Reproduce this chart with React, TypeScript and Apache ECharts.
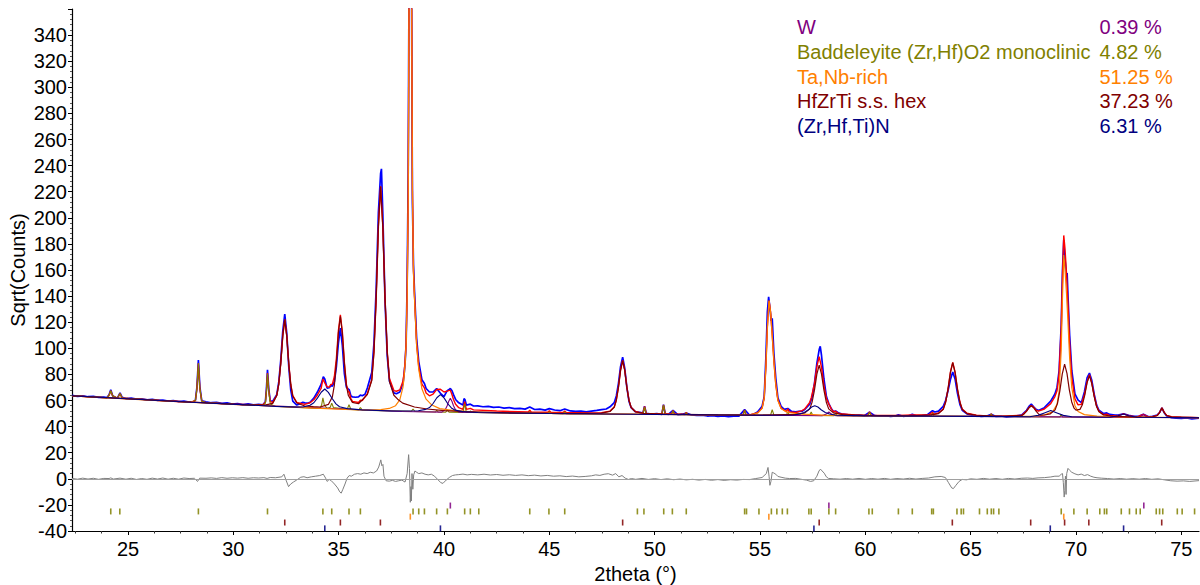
import React, { useEffect, useRef } from "react";
import * as echarts from "echarts";

type Pt = [number, number];

const X_MIN = 22.34;
const X_MAX = 75.84;
const Y_MIN = -40;
const Y_MAX = 360;
const X_TICKS = [25, 30, 35, 40, 45, 50, 55, 60, 65, 70, 75];
const X_MINOR_TICKS = [22.5, 23.75, 26.25, 27.5, 28.75, 31.25, 32.5, 33.75, 36.25, 37.5, 38.75, 41.25, 42.5, 43.75, 46.25, 47.5, 48.75, 51.25, 52.5, 53.75, 56.25, 57.5, 58.75, 61.25, 62.5, 63.75, 66.25, 67.5, 68.75, 71.25, 72.5, 73.75];

const PHASE_NAMES = ["W", "Baddeleyite (Zr,Hf)O2 monoclinic", "Ta,Nb-rich", "HfZrTi s.s. hex", "(Zr,Hf,Ti)N"];
const PHASE_PERCENT = ["0.39 %", "4.82 %", "51.25 %", "37.23 %", "6.31 %"];
const PHASE_COLORS = ["#800080", "#808000", "#ff8000", "#800000", "#000080"];

const OBSERVED: Pt[] = [
  [22.34,63.9],[22.6,63.2],[22.85,63.6],[23.1,62.9],[23.35,63.1],[23.6,62.4],[23.85,62.6],[24.0,62.3],[24.1,64.4],[24.18,68.2],[24.27,63.7],[24.4,62.3],[24.5,62.0],[24.62,65.8],[24.72,62.4],[24.9,61.5],[25.15,61.8],[25.4,61.0],[25.65,61.3],[25.9,60.5],[26.15,60.9],[26.4,60.1],[26.65,60.4],[26.9,59.6],[27.15,60.0],[27.4,59.2],[27.65,59.5],[27.9,58.7],[28.1,59.0],[28.2,60.3],[28.27,70],[28.34,91],[28.41,70.5],[28.5,59.8],[28.7,58.9],[28.95,58.3],[29.2,58.6],[29.45,57.8],[29.7,58.2],[29.95,57.3],[30.2,57.6],[30.45,56.9],[30.7,57.4],[30.95,56.6],[31.2,57.0],[31.4,56.7],[31.52,59],[31.57,69],[31.62,83.5],[31.68,69],[31.75,59.8],[31.87,59.4],[32.06,64.5],[32.155,74],[32.25,91],[32.345,113],[32.44,126.2],[32.535,111.5],[32.63,86],[32.725,68],[32.82,59.5],[33.01,56.5],[33.2,57.8],[33.3,58.6],[33.39,58.2],[33.55,58.0],[33.64,58.6],[33.82,61.8],[33.99,66.5],[34.17,72.5],[34.27,78.2],[34.34,76.5],[34.45,69.5],[34.55,69.8],[34.63,71.3],[34.7,71.0],[34.795,74.5],[34.89,86],[34.985,104],[35.08,115.5],[35.175,102],[35.27,80.5],[35.365,70.2],[35.46,68.7],[35.5,68.3],[35.58,63.5],[35.65,62.8],[35.8,62.5],[35.94,62.8],[36.03,64.2],[36.12,63.6],[36.25,64.8],[36.36,69.5],[36.57,81.5],[36.675,104],[36.78,146],[36.885,204],[36.99,234],[37.03,237.5],[37.095,203],[37.2,136],[37.305,94],[37.41,75],[37.62,65.8],[37.74,65.2],[37.9,66.5],[38.05,72.8],[38.1,79],[38.15,88],[38.2,103],[38.25,150],[38.3,235],[38.32,310],[38.34,385],[38.4,500],[38.46,370],[38.48,290],[38.5,212],[38.55,164],[38.6,143.5],[38.7,107.5],[38.8,89.8],[38.95,76],[39.07,73],[39.15,69.2],[39.31,66.5],[39.48,66.5],[39.65,69.2],[39.83,65.5],[40.0,63],[40.15,67.5],[40.22,68.2],[40.3,69.2],[40.38,67.5],[40.45,64.5],[40.55,60.8],[40.7,58.2],[40.9,56.5],[40.95,61.5],[41.0,60.5],[41.06,56.5],[41.25,57.2],[41.4,55.8],[41.6,55.9],[41.85,55.2],[42.1,55.5],[42.35,54.7],[42.6,55.0],[42.85,54.2],[43.1,54.6],[43.35,53.8],[43.6,54.0],[43.85,53.4],[44.07,55.0],[44.3,53.1],[44.55,53.4],[44.8,52.6],[45.0,53.8],[45.25,52.7],[45.5,52.2],[45.73,53.5],[46.0,52.0],[46.25,51.6],[46.5,51.9],[46.75,51.3],[47.0,51.9],[47.25,52.4],[47.48,53.0],[47.7,53.5],[47.88,55.2],[48.08,58.3],[48.18,63.5],[48.28,73],[48.38,86],[48.48,93.2],[48.58,84.5],[48.68,70],[48.78,59.5],[48.88,54.6],[49.08,51.4],[49.3,50.9],[49.44,50.3],[49.52,55.6],[49.6,50.2],[49.85,49.6],[50.1,49.9],[50.34,49.4],[50.42,56.9],[50.5,49.9],[50.65,49.4],[50.87,52.5],[51.1,49.1],[51.3,49.5],[51.5,50.4],[51.75,48.9],[52.0,48.5],[52.25,48.8],[52.5,48.1],[52.75,48.4],[53.0,47.8],[53.25,48.2],[53.5,47.7],[53.75,48.1],[54.0,48.0],[54.27,53.0],[54.5,48.9],[54.7,49.4],[54.9,51.5],[55.1,55.6],[55.2,63],[55.28,93],[55.35,128],[55.41,139.5],[55.47,131],[55.53,121],[55.58,123],[55.66,96],[55.75,77],[55.85,62],[56.0,55.5],[56.15,53.2],[56.32,53.9],[56.5,51.6],[56.69,51.3],[56.85,51.6],[57.0,51.8],[57.135,53.3],[57.36,57.2],[57.47,62.5],[57.585,73.2],[57.7,88.5],[57.81,99],[57.86,101.5],[57.92,94.5],[58.035,76.5],[58.15,63.2],[58.26,57.8],[58.39,53.6],[58.485,51.6],[58.59,51.9],[58.75,50.3],[58.94,49.5],[59.2,49.0],[59.45,48.6],[59.7,48.9],[59.95,48.3],[60.2,51.0],[60.45,48.4],[60.7,48.0],[60.95,48.3],[61.2,47.8],[61.45,48.2],[61.57,49.0],[61.8,47.9],[62.05,48.3],[62.23,49.4],[62.45,48.0],[62.7,48.4],[62.95,49.2],[63.19,52.2],[63.3,51.2],[63.475,51.8],[63.7,55.5],[63.81,60],[63.925,67.5],[64.04,76],[64.15,81.8],[64.26,76.5],[64.375,65.5],[64.49,57],[64.6,52.5],[64.825,49.7],[65.05,48.8],[65.27,48.3],[65.5,47.9],[65.8,48.2],[65.98,49.5],[66.2,47.8],[66.45,48.1],[66.7,47.5],[66.95,47.9],[67.2,48.2],[67.43,49.0],[67.655,52.5],[67.77,55.5],[67.88,57.2],[67.99,55.2],[68.105,53.2],[68.22,52.3],[68.5,54.5],[68.8,59.5],[69.0,65],[69.1,70],[69.2,83],[69.3,118],[69.36,160],[69.42,183],[69.45,170],[69.48,168],[69.55,156],[69.58,157.6],[69.62,140],[69.7,110],[69.8,83],[69.95,65],[70.1,60.3],[70.26,58.4],[70.4,66.5],[70.53,77.5],[70.64,81],[70.75,75.5],[70.87,64.5],[70.98,56.5],[71.09,52.5],[71.3,50],[71.46,50.5],[71.6,49.3],[71.85,48.8],[72.0,48.8],[72.26,49.8],[72.5,48.6],[72.75,47.8],[73.0,48.1],[73.2,49.5],[73.45,47.5],[73.63,47.8],[73.855,48.8],[73.97,50.8],[74.08,54.3],[74.19,50.6],[74.305,48.2],[74.53,46.8],[74.75,46.5],[75.0,46.2],[75.25,46.6],[75.5,45.9],[75.84,46.4]
];

const CALCULATED: Pt[] = [
  [22.34,63.6],[23.2,62.8],[24.0,62.0],[24.1,64.0],[24.18,67.5],[24.27,63.5],[24.5,61.9],[24.62,65.3],[24.72,61.9],[25.0,61.6],[26.5,60.0],[28.0,58.7],[28.2,60.0],[28.27,69],[28.34,88.5],[28.41,69],[28.5,59.5],[28.7,58.4],[30.0,57.1],[30.9,56.7],[31.4,56.8],[31.52,58.6],[31.57,67.4],[31.62,81],[31.68,67.8],[31.75,59.2],[31.87,58.6],[32.06,64.0],[32.155,72.6],[32.25,88.5],[32.345,109.5],[32.44,122.2],[32.535,109.4],[32.63,88.2],[32.725,72.3],[32.82,63.7],[33.01,58.6],[33.39,57.0],[33.64,58.3],[33.82,60.6],[33.99,64.2],[34.17,69.5],[34.25,76.5],[34.34,73.5],[34.45,70.5],[34.55,70.3],[34.63,72.3],[34.7,72.6],[34.795,78.4],[34.89,92.2],[34.985,113.3],[35.08,125.7],[35.175,112.2],[35.27,89.3],[35.365,72.4],[35.46,66.3],[35.49,67.0],[35.58,61.5],[35.65,59.3],[35.94,58.5],[36.03,60.2],[36.12,59.9],[36.36,65.3],[36.57,76],[36.675,97.5],[36.78,138.5],[36.885,193.2],[36.99,224.1],[37.095,193.1],[37.2,138.3],[37.305,97.4],[37.41,76.8],[37.62,67.6],[37.74,67.1],[37.9,68.1],[38.05,74.7],[38.1,80.5],[38.15,89.5],[38.2,104],[38.25,141.6],[38.3,216],[38.32,291],[38.34,371],[38.4,520],[38.46,381],[38.48,301],[38.5,223],[38.55,159.5],[38.6,139.3],[38.7,103.5],[38.8,86],[38.95,72.5],[39.07,69.6],[39.15,65.8],[39.31,63.6],[39.48,64.9],[39.65,68.4],[39.83,68.6],[40.0,66.5],[40.15,67.2],[40.22,67.6],[40.3,67.9],[40.38,64.4],[40.45,60.8],[40.55,57.1],[40.7,54.5],[40.9,53.2],[40.98,59.2],[41.06,53.2],[41.25,54.0],[41.4,52.8],[42.5,51.9],[44.0,51.2],[44.07,52.5],[44.14,51.2],[44.93,51.0],[45.0,52.2],[45.07,51.0],[45.66,50.8],[45.73,52.0],[45.8,50.8],[47.0,50.4],[47.48,50.7],[47.88,51.9],[48.08,55],[48.18,60.4],[48.28,70.3],[48.38,83.3],[48.48,90.7],[48.58,83.3],[48.68,70.2],[48.78,60.3],[48.88,54.9],[49.08,51.6],[49.3,50.6],[49.44,50.1],[49.52,55.4],[49.6,50.1],[50.0,49.8],[50.34,49.7],[50.42,56.7],[50.5,49.7],[50.8,49.6],[50.87,52.4],[50.94,49.6],[51.44,49.4],[51.5,50.8],[51.56,49.4],[53.0,49.1],[54.2,49.1],[54.27,52.7],[54.34,49.1],[54.5,49.0],[54.9,50.7],[55.1,54.2],[55.2,62.2],[55.28,86.1],[55.35,116.1],[55.43,136.6],[55.5,128.1],[55.58,110.3],[55.66,90.1],[55.75,72.2],[55.85,60.3],[56.0,54.2],[56.25,51.5],[56.32,53.6],[56.39,51.2],[56.69,50.8],[57.0,52.2],[57.135,53.7],[57.36,58.6],[57.43,62.0],[57.47,64.7],[57.585,73.0],[57.7,85.9],[57.81,93.6],[57.92,85.4],[58.035,71.4],[58.15,61.8],[58.26,57.6],[58.39,53.4],[58.485,51.5],[58.59,51.8],[58.7,50.3],[58.94,49.6],[59.5,48.9],[60.12,48.6],[60.2,51.3],[60.28,48.6],[61.57,48.5],[62.23,48.9],[63.03,49.2],[63.19,51.0],[63.26,49.6],[63.475,50.4],[63.7,53.4],[63.81,58.8],[63.925,68.6],[64.04,81.7],[64.15,89.1],[64.26,81.7],[64.375,68.6],[64.49,58.8],[64.6,53.4],[64.825,50.2],[65.27,48.8],[65.9,48.0],[65.98,49.7],[66.06,47.9],[66.5,47.9],[67.43,48.7],[67.655,52.0],[67.77,54.6],[67.88,56.1],[67.99,54.9],[68.105,52.6],[68.22,51.8],[68.5,53.5],[68.8,57.6],[69.0,63],[69.1,67.5],[69.2,81],[69.3,116.2],[69.36,155.7],[69.42,186.5],[69.48,176],[69.55,157.5],[69.62,133.9],[69.7,103.5],[69.8,78.2],[69.95,61.2],[70.1,56.6],[70.26,57.1],[70.4,64.4],[70.53,74.6],[70.64,79.8],[70.75,73.4],[70.87,63.3],[70.98,55.8],[71.09,51.8],[71.3,49.2],[71.46,49.6],[71.6,48.4],[72.0,48.4],[72.26,49.8],[72.5,48.4],[72.9,47.4],[73.2,49.3],[73.45,47.2],[73.63,47.6],[73.855,48.6],[73.97,50.9],[74.08,54.3],[74.19,50.9],[74.305,48.6],[74.53,47.6],[75.0,47.2],[75.84,46.9]
];

const DIFFERENCE: Pt[] = [
  [22.34,0.3],[22.6,-0.3],[22.85,0.5],[23.1,-0.2],[23.35,0.4],[23.6,-0.4],[23.85,0.3],[24.1,0.2],[24.18,0.7],[24.3,-0.2],[24.62,0.5],[24.9,-0.3],[25.15,0.4],[25.4,-0.5],[25.65,0.2],[25.9,-0.4],[26.15,0.5],[26.4,-0.2],[26.65,0.6],[26.9,-0.3],[27.15,0.4],[27.4,-0.3],[27.65,0.6],[27.9,0.2],[28.15,0.4],[28.3,-2.0],[28.4,0.5],[28.7,0.4],[28.95,0.7],[29.2,0.3],[29.45,0.9],[29.7,0.4],[29.95,0.8],[30.2,0.5],[30.45,0.9],[30.7,0.4],[30.95,0.8],[31.2,0.6],[31.45,0.9],[31.6,0.3],[31.75,1.0],[32.0,0.8],[32.3,1.5],[32.4,3.5],[32.5,-1],[32.62,-6],[32.72,-4],[32.85,-2.5],[33.0,-1],[33.2,1.2],[33.35,1.6],[33.5,0.8],[33.7,1.5],[33.9,2.0],[34.1,2.5],[34.27,3.5],[34.38,0.5],[34.45,-2],[34.55,-0.5],[34.65,-1.5],[34.8,-4],[34.95,-7],[35.05,-10],[35.12,-11],[35.2,-8],[35.3,-4],[35.4,0.5],[35.5,2.5],[35.6,2.0],[35.75,3.5],[35.9,4.0],[36.05,3.5],[36.2,4.5],[36.35,4.0],[36.5,5.0],[36.65,4.5],[36.8,6.0],[36.9,9],[37.0,14.5],[37.05,10],[37.1,11],[37.15,2],[37.25,-1.5],[37.4,-1.8],[37.55,-1.2],[37.7,-2.0],[37.85,-1.5],[38.0,-1.0],[38.15,-2.5],[38.25,4],[38.32,18.5],[38.36,8],[38.4,-18],[38.43,-6],[38.45,-17],[38.48,4],[38.52,-8],[38.56,3],[38.62,6],[38.7,5],[38.8,4],[38.95,4.5],[39.1,3.5],[39.25,3.0],[39.4,3.5],[39.55,2.0],[39.7,-0.5],[39.85,-3],[39.95,-3.5],[40.1,-1],[40.25,1.0],[40.4,2.5],[40.55,3.0],[40.7,3.2],[40.9,3.6],[41.1,3.0],[41.3,3.4],[41.6,3.0],[41.9,3.5],[42.2,2.9],[42.5,3.3],[42.8,2.7],[43.1,3.1],[43.4,2.6],[43.7,3.0],[44.0,2.4],[44.3,2.8],[44.6,2.2],[44.9,2.6],[45.2,2.0],[45.5,2.3],[45.8,1.7],[46.1,2.1],[46.4,1.5],[46.7,1.8],[47.0,2.3],[47.2,3.0],[47.4,2.6],[47.6,3.5],[47.8,3.9],[48.0,2.8],[48.15,4.0],[48.3,1.5],[48.45,2.5],[48.6,0.5],[48.75,-0.5],[48.9,0.2],[49.1,-0.4],[49.4,0.3],[49.7,-0.5],[50.0,0.1],[50.3,-0.6],[50.6,0.0],[50.9,-0.7],[51.2,-0.2],[51.5,-0.8],[51.8,-0.4],[52.1,-1.0],[52.4,-0.5],[52.7,-1.1],[53.0,-0.6],[53.3,-1.2],[53.6,-0.7],[53.9,-1.0],[54.2,-0.5],[54.5,-0.6],[54.8,0.2],[55.1,1.0],[55.3,4.0],[55.38,8.7],[55.43,2],[55.47,-5],[55.52,-2],[55.58,5],[55.65,4.5],[55.75,3.5],[55.85,1.8],[56.0,1.2],[56.2,0.5],[56.4,0.2],[56.7,0.3],[57.0,-0.5],[57.2,-1.0],[57.4,-2.0],[57.55,-1.5],[57.7,2.0],[57.8,6.0],[57.87,7.4],[57.95,6.0],[58.05,4.3],[58.15,1.5],[58.25,0.3],[58.5,0.0],[58.8,-0.3],[59.1,0.2],[59.4,-0.3],[59.7,0.3],[60.0,-0.4],[60.3,0.2],[60.6,-0.3],[60.9,0.3],[61.2,-0.4],[61.5,0.2],[61.8,-0.2],[62.1,0.4],[62.4,-0.2],[62.7,0.3],[63.0,0.6],[63.3,1.5],[63.6,1.8],[63.8,1.0],[63.95,-3],[64.1,-7],[64.18,-7.5],[64.3,-5],[64.45,-2],[64.6,-0.5],[64.8,-0.8],[65.0,0.0],[65.3,-0.4],[65.6,0.3],[65.9,-0.3],[66.2,0.2],[66.5,-0.4],[66.8,0.3],[67.1,-0.2],[67.4,0.4],[67.7,0.6],[67.95,0.3],[68.2,0.7],[68.5,0.9],[68.8,1.4],[69.0,2.0],[69.2,2.0],[69.3,3.5],[69.36,4],[69.4,-3],[69.44,-14],[69.47,-9],[69.5,2],[69.53,-12],[69.56,4],[69.62,8],[69.7,6.5],[69.8,5],[69.95,3.8],[70.1,3.0],[70.25,3.6],[70.4,2.5],[70.55,3.2],[70.7,2.0],[70.85,1.2],[71.0,0.8],[71.2,0.5],[71.5,0.2],[71.8,-0.2],[72.1,0.2],[72.4,-0.3],[72.7,0.1],[73.0,-0.3],[73.3,0.2],[73.6,-0.4],[73.9,0.0],[74.2,-0.8],[74.5,-1.5],[74.8,-1.8],[75.1,-1.6],[75.4,-2.0],[75.84,-1.4]
];

const W_PROFILE: Pt[] = [
  [22.34,63.6],[30,57.1],[38,51.6],[39.9,51.1],[40.05,52.8],[40.15,56],[40.22,59.2],[40.3,61.8],[40.38,59.2],[40.45,56],[40.55,52.8],[40.7,51.1],[45,50.0],[55,48.7],[57.95,48.4],[58.15,49.6],[58.27,51.3],[58.39,49.6],[58.6,48.3],[65,47.8],[72.95,47.1],[73.1,48.1],[73.2,49.2],[73.3,48.1],[73.45,47.0],[75.84,46.8]
];

const BADDELEYITE_PROFILE: Pt[] = [
  [22.34,63.6],[24.0,62.0],[24.1,64.0],[24.18,67.5],[24.27,63.5],[24.5,61.9],[24.62,65.3],[24.72,61.9],[25.0,61.6],[26.5,60.0],[28.0,58.7],[28.2,60.0],[28.27,69],[28.34,88.5],[28.41,69],[28.5,59.5],[28.7,58.4],[30.0,57.1],[31.4,56.2],[31.52,58],[31.57,67],[31.62,80.5],[31.68,67],[31.75,57.5],[31.95,55.6],[34.1,53.9],[34.19,56.5],[34.25,62],[34.32,56.5],[34.45,53.9],[34.6,54.8],[34.67,58],[34.75,54.6],[35.4,53.2],[35.49,56.8],[35.58,53.1],[35.95,52.7],[36.03,54.6],[36.12,52.6],[38.45,51.7],[38.53,53.5],[38.62,51.6],[39.6,51.2],[39.65,52.5],[39.72,51.2],[40.08,51.0],[40.16,52.8],[40.24,51.0],[40.9,50.9],[40.98,57.5],[41.06,50.9],[41.2,50.8],[41.25,52.0],[41.32,50.8],[44.0,50.1],[44.07,51.5],[44.14,50.1],[44.93,50.0],[45.0,51.3],[45.07,50.0],[45.66,49.9],[45.73,51.2],[45.8,49.9],[49.44,49.4],[49.52,55.0],[49.6,49.4],[50.34,49.3],[50.42,56.5],[50.5,49.3],[50.8,49.3],[50.87,52.2],[50.94,49.3],[51.44,49.2],[51.5,50.6],[51.56,49.2],[54.2,48.9],[54.27,52.5],[54.34,48.9],[55.5,48.7],[55.58,53.0],[55.66,48.7],[56.25,48.6],[56.32,51.5],[56.39,48.6],[57.35,48.5],[57.43,51.2],[57.51,48.5],[58.52,48.4],[58.59,50.5],[58.66,48.4],[60.12,48.2],[60.2,51.0],[60.28,48.2],[63.12,48.0],[63.19,50.3],[63.26,48.0],[65.9,47.7],[65.98,49.6],[66.06,47.7],[69.24,47.4],[69.3,49.4],[69.36,47.4],[75.84,46.8]
];

const TA_PROFILE: Pt[] = [
  [22.34,63.6],[26,60.3],[30,57.1],[33,54.8],[35,53.4],[36.0,52.8],[36.5,52.6],[37.0,53.0],[37.4,53.9],[37.7,56.0],[37.9,60.5],[38.05,70],[38.1,77],[38.15,87],[38.2,102],[38.25,140],[38.3,215],[38.32,290],[38.34,370],[38.4,520],[38.46,380],[38.48,300],[38.5,222],[38.55,158],[38.6,138],[38.7,102],[38.8,84],[38.95,69],[39.15,61],[39.4,56.8],[39.8,53.8],[40.4,52.4],[41.5,51.2],[43,50.5],[46,49.9],[50,49.3],[54.5,48.8],[54.9,50.5],[55.1,54],[55.2,62],[55.28,86],[55.35,116],[55.43,136.5],[55.5,128],[55.58,110],[55.66,90],[55.75,72],[55.85,60],[56.0,53.8],[56.3,50.8],[57.0,49.6],[58.0,48.8],[60,48.2],[65,47.8],[68.0,47.9],[68.5,48.9],[68.9,51.5],[69.1,57],[69.2,67],[69.3,99],[69.36,139],[69.42,171.5],[69.48,160],[69.55,142],[69.62,120],[69.7,92],[69.8,70],[69.95,56],[70.1,51.6],[70.4,49.2],[71.0,48.0],[72.0,47.4],[75.84,46.8]
];

const HFZRTI_PROFILE: Pt[] = [
  [22.34,63.6],[28,58.7],[30.5,56.8],[31.49,56.4],[31.87,57.8],[32.06,63.8],[32.155,72.5],[32.25,88.4],[32.345,109.5],[32.44,122],[32.535,109.3],[32.63,88],[32.725,72.1],[32.82,63.4],[33.01,58.1],[33.39,55.8],[33.8,55.3],[34.13,55.0],[34.51,57.0],[34.7,62.8],[34.795,71.8],[34.89,88.8],[34.985,111.5],[35.08,124.6],[35.175,111.3],[35.27,88.5],[35.365,71.5],[35.46,63.8],[35.65,58.6],[35.94,57.5],[36.36,64.5],[36.57,75.3],[36.675,97.1],[36.78,138.3],[36.885,193.1],[36.99,224],[37.095,193],[37.2,138.1],[37.305,96.9],[37.41,74.6],[37.62,64],[37.8,61],[38.04,58],[38.6,55],[39.2,53.5],[40,52.3],[41,51.4],[43,50.6],[46,50.0],[47.48,50.3],[47.88,51.6],[48.08,54.8],[48.18,60.2],[48.28,70.1],[48.38,83.1],[48.48,90.5],[48.58,83.1],[48.68,70],[48.78,60.1],[48.88,54.7],[49.08,51.4],[49.48,50.1],[50.5,49.5],[53,49.0],[55,48.8],[56.69,49.4],[57.135,50.5],[57.36,53.6],[57.47,58.6],[57.585,67.9],[57.70,80.2],[57.81,87.1],[57.92,80.2],[58.035,67.9],[58.15,58.6],[58.26,53.6],[58.485,50.5],[58.94,49.2],[60,48.6],[62,48.3],[63.03,48.8],[63.475,50.0],[63.7,53.2],[63.81,58.6],[63.925,68.5],[64.04,81.6],[64.15,89],[64.26,81.6],[64.375,68.5],[64.49,58.6],[64.6,53.2],[64.825,50.0],[65.27,48.7],[66.5,47.9],[67.43,48.6],[67.54,49.7],[67.655,51.8],[67.77,54.5],[67.88,56],[67.99,54.5],[68.105,51.8],[68.22,49.7],[68.33,48.8],[68.5,48.9],[68.785,49.8],[69.01,52.8],[69.1225,57.8],[69.235,67.4],[69.3475,80.2],[69.46,87.8],[69.5725,80.8],[69.685,68.2],[69.7975,58.9],[69.91,54.1],[70.0,52.6],[70.19,53.2],[70.3025,56.7],[70.415,63.9],[70.5275,73.7],[70.64,79.1],[70.7525,72.9],[70.865,62.9],[70.9775,55.4],[71.09,51.4],[71.315,48.9],[71.765,47.8],[73.0,47.2],[73.63,47.5],[73.855,48.5],[73.97,50.8],[74.08,54.2],[74.19,50.8],[74.305,48.5],[74.53,47.5],[75.84,46.9]
];

const NITRIDE_PROFILE: Pt[] = [
  [22.34,63.6],[28,58.7],[32.0,55.5],[33.0,54.9],[33.3,55.0],[33.64,56.4],[33.82,58.3],[33.99,61.8],[34.17,66.3],[34.34,68.8],[34.51,66.2],[34.69,61.5],[34.87,57.4],[35.04,55.2],[35.4,53.8],[36.1,52.8],[37.5,52.0],[38.78,52.1],[39.13,53.2],[39.31,54.6],[39.48,57.7],[39.66,62.1],[39.83,64.5],[40.0,62.0],[40.18,57.5],[40.35,54.3],[40.53,52.6],[40.88,51.5],[41.6,50.8],[45,50.0],[50,49.3],[55,48.7],[56.6,48.9],[56.9,49.6],[57.1,50.8],[57.3,52.9],[57.45,55],[57.6,56],[57.75,55],[57.9,52.9],[58.1,50.8],[58.3,49.6],[58.6,48.7],[60,48.2],[65,47.8],[67.8,47.6],[68.2,48.6],[68.5,50.5],[68.8,52.3],[69.1,50.5],[69.4,48.6],[69.8,47.6],[71.6,47.2],[72.0,48.3],[72.26,49.6],[72.5,48.3],[72.9,47.2],[75.84,46.8]
];

// reflection positions (2theta) for each phase
const W_REFLECTIONS = [40.30, 58.27, 73.22];
const BADDELEYITE_REFLECTIONS = [24.18, 24.61, 28.34, 31.62, 34.25, 34.67, 35.49, 36.03, 38.53, 38.80, 39.07, 39.65, 40.16, 40.98, 41.25, 41.65, 44.07, 44.98, 45.73, 49.18, 49.49, 50.43, 50.84, 51.50, 54.27, 54.36, 54.95, 55.54, 55.80, 56.06, 56.30, 57.32, 57.43, 58.27, 58.59, 60.17, 60.33, 61.57, 62.23, 63.15, 63.23, 64.35, 64.55, 64.66, 65.42, 65.79, 65.98, 66.09, 66.34, 69.30, 69.90, 70.53, 71.13, 71.35, 71.46, 72.15, 72.54, 72.86, 73.05, 73.81, 73.97, 74.12, 74.81, 75.04, 75.63];
const TA_REFLECTIONS = [38.40, 55.42, 69.42];
const HFZRTI_REFLECTIONS = [32.44, 35.08, 36.98, 48.48, 57.81, 64.13, 67.85, 69.46, 70.61, 74.07];
const NITRIDE_REFLECTIONS = [34.34, 39.83, 57.56, 68.78, 72.26];
const REFLECTION_ROWS = [-20.5, -25, -29, -33.5, -38];

const FONT = "'Liberation Sans', Arial, Helvetica, sans-serif";

export default function App() {
  const ref = useRef<HTMLDivElement>(null);

  useEffect(() => {
    if (!ref.current) return;
    const chart = echarts.init(ref.current, null, { renderer: "svg" });

    const line = (name: string, data: Pt[], color: string, width: number, extra: any = {}) => ({
      name,
      type: "line",
      data,
      showSymbol: false,
      symbol: "none",
      clip: true,
      lineStyle: { color, width },
      itemStyle: { color },
      emphasis: { disabled: true },
      ...extra,
    });

    const reflectionSets = [W_REFLECTIONS, BADDELEYITE_REFLECTIONS, TA_REFLECTIONS, HFZRTI_REFLECTIONS, NITRIDE_REFLECTIONS];
    const tickSeries = reflectionSets.map((set, i) => ({
      name: PHASE_NAMES[i] + " ticks",
      type: "scatter",
      symbol: "rect",
      symbolSize: [1.6, 6],
      data: set.map((x) => [x, REFLECTION_ROWS[i]]),
      itemStyle: { color: PHASE_COLORS[i], opacity: 0.85 },
      emphasis: { disabled: true },
      silent: true,
    }));

    const legendTexts: any[] = [];
    PHASE_NAMES.forEach((n, i) => {
      const y = 27 + i * 24.8;
      legendTexts.push({
        type: "text",
        x: 797,
        y,
        silent: true,
        style: { text: n, fill: PHASE_COLORS[i], fontSize: 20, fontFamily: FONT, align: "left", verticalAlign: "middle", textAlign: "left", textVerticalAlign: "middle" },
      });
      legendTexts.push({
        type: "text",
        x: 1099.5,
        y,
        silent: true,
        style: { text: PHASE_PERCENT[i], fill: PHASE_COLORS[i], fontSize: 20, fontFamily: FONT, align: "left", verticalAlign: "middle", textAlign: "left", textVerticalAlign: "middle" },
      });
    });

    chart.setOption({
      animation: false,
      backgroundColor: "#ffffff",
      textStyle: { fontFamily: FONT },
      grid: { left: 72, right: 1, top: 9, bottom: 54, containLabel: false, outerBoundsMode: "none" },
      xAxis: [
        {
          type: "value",
          min: X_MIN,
          max: X_MAX,
          position: "bottom",
          axisLine: { show: true, onZero: false, lineStyle: { color: "#000", width: 1.2 } },
          axisTick: { show: true, inside: false, length: 4, customValues: X_TICKS, lineStyle: { color: "#000" } },
          axisLabel: { show: true, customValues: X_TICKS, fontSize: 20, color: "#000", fontFamily: FONT, margin: 8 },
          splitLine: { show: false },
          name: "2theta (°)",
          nameLocation: "middle",
          nameGap: 30,
          nameTextStyle: { fontSize: 20, color: "#000", fontFamily: FONT },
        },
        {
          type: "value",
          min: X_MIN,
          max: X_MAX,
          position: "bottom",
          axisLine: { show: false, onZero: false },
          axisTick: { show: true, inside: false, length: 2.5, customValues: X_MINOR_TICKS, lineStyle: { color: "#333" } },
          axisLabel: { show: false },
          splitLine: { show: false },
        },
      ],
      yAxis: {
        type: "value",
        min: Y_MIN,
        max: Y_MAX,
        interval: 20,
        axisLine: { show: true, onZero: false, lineStyle: { color: "#000", width: 1.2 } },
        axisTick: { show: true, inside: false, length: 4, lineStyle: { color: "#000" } },
        minorTick: { show: true, splitNumber: 5, length: 2, lineStyle: { color: "#555" } },
        axisLabel: { fontSize: 20, color: "#000", fontFamily: FONT, margin: 5, showMaxLabel: false },
        splitLine: { show: false },
      },
      graphic: [
        {
          type: "text",
          x: 18,
          y: 270,
          rotation: Math.PI / 2,
          silent: true,
          style: { text: "Sqrt(Counts)", fill: "#000", fontSize: 20, fontFamily: FONT, align: "center", verticalAlign: "middle", textAlign: "center", textVerticalAlign: "middle" },
        },
        ...legendTexts,
      ],
      series: [
        line("Observed", OBSERVED, "#0000ff", 1.7),
        line("Calculated", CALCULATED, "#ff0000", 1.4),
        line("Difference", DIFFERENCE, "#808080", 1.0, {
          markLine: {
            silent: true,
            symbol: "none",
            label: { show: false },
            lineStyle: { color: "#a0a0a0", width: 1, type: "solid" },
            data: [{ yAxis: 0 }],
          },
        }),
        line(PHASE_NAMES[1], BADDELEYITE_PROFILE, PHASE_COLORS[1], 1.1),
        line(PHASE_NAMES[0], W_PROFILE, PHASE_COLORS[0], 1.1),
        line(PHASE_NAMES[2], TA_PROFILE, PHASE_COLORS[2], 1.2),
        line(PHASE_NAMES[3], HFZRTI_PROFILE, PHASE_COLORS[3], 1.2),
        line(PHASE_NAMES[4], NITRIDE_PROFILE, PHASE_COLORS[4], 1.1),
        ...tickSeries,
      ],
    });

    return () => chart.dispose();
  }, []);

  return <div ref={ref} style={{ position: "fixed", left: 0, top: 0, width: 1200, height: 585, background: "#fff" }} />;
}
